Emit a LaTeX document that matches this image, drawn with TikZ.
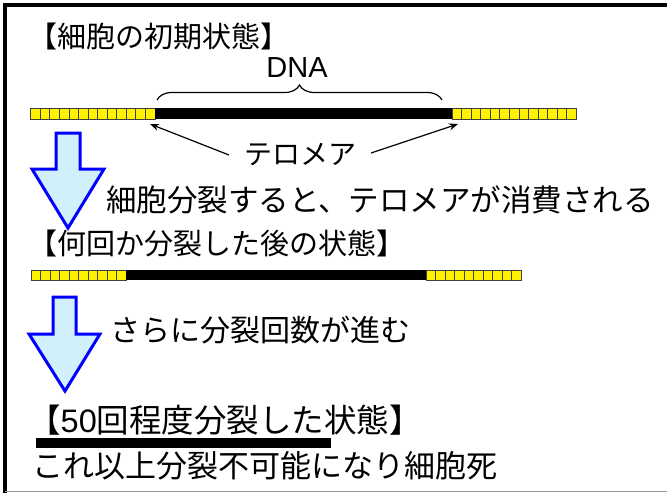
\documentclass[tikz,border=0pt]{standalone}
\usepackage{fontspec}
\setmainfont{Noto Sans CJK JP}
\newfontfamily\latinsans{Liberation Sans}
\usetikzlibrary{decorations.pathreplacing,arrows.meta}
\tikzset{
  lbl/.style={font=\fontsize{29}{34}\selectfont, inner sep=0pt, anchor=west},
  cell/.style={fill=yellow, draw=black!75, line width=0.8pt},
  dnabar/.style={fill=black, draw=none},
  bigarrow/.style={fill=cyan!18, draw=blue, line width=3pt, line join=miter},
  ptr/.style={-{Stealth[length=9pt,width=7pt]}, line width=1.2pt},
  frameblack/.style={line width=4pt, draw=black},
}
\begin{document}
\begin{tikzpicture}[x=1pt,y=-1pt]
\useasboundingbox (0,0) rectangle (667,493);
\fill[white] (0,0) rectangle (667,493);
% frame
\draw[frameblack] (5,493) -- (5,5) -- (667,5);
\draw[black!40, line width=1.5pt] (5,491.5) -- (667,491.5);

% title 1
\node[lbl] (t1) at (28,36) {【細胞の初期状態】};
\node[font=\latinsans\fontsize{29}{34}\selectfont, inner sep=0pt] (dna) at (297,68) {DNA};
\coordinate (bl) at (157,100);
\coordinate (br) at (442,100);
\draw[decorate, decoration={brace, amplitude=15pt}, line width=1.2pt] (bl) -- (br);

% bar 1
\foreach \i in {0,...,12} \draw[cell] (30.7+\i*9.56,108) rectangle ++(9.56,11);
\fill[dnabar] (155,108) rectangle (452,119);
\foreach \i in {0,...,12} \draw[cell] (452+\i*9.56,108) rectangle ++(9.56,11);

% telomere label
\node[font=\fontsize{28}{34}\selectfont, inner sep=0pt] (tel) at (300,155) {テロメア};
\coordinate (lt) at (150,124);
\coordinate (rt) at (458,124);
\coordinate (tl) at (229,155);
\coordinate (tr) at (371,153);
\draw[ptr] (tl) -- (lt);
\draw[ptr] (tr) -- (rt);

% big arrow 1
\draw[bigarrow] (56,133) -- (80,133) -- (80,169) -- (104,169) -- (68,228) -- (32,169) -- (56,169) -- cycle;
\node[lbl, font=\fontsize{30.5}{36}\selectfont] (m1) at (106,200) {細胞分裂すると、テロメアが消費される};

% title 2
\node[lbl] (t2) at (28,243) {【何回か分裂した後の状態】};
\foreach \i in {0,...,9} \draw[cell] (31+\i*9.5,270) rectangle ++(9.5,10);
\fill[dnabar] (126,270) rectangle (426,280);
\foreach \i in {0,...,9} \draw[cell] (426+\i*9.5,270) rectangle ++(9.5,10);

% big arrow 2
\draw[bigarrow] (53,297) -- (76,297) -- (76,334) -- (100,334) -- (65,391) -- (29,334) -- (53,334) -- cycle;
\node[lbl, font=\fontsize{30}{35}\selectfont] (m2) at (110,330) {さらに分裂回数が進む};

% title 3
\node[lbl, font=\fontsize{32.5}{37}\selectfont] (t3) at (28,420) {【{\latinsans 50}回程度分裂した状態】};
\fill[dnabar] (36,438) rectangle (331,448);
\node[lbl, font=\fontsize{31}{36}\selectfont] (m3) at (32,466) {これ以上分裂不可能になり細胞死};
\end{tikzpicture}
\end{document}
